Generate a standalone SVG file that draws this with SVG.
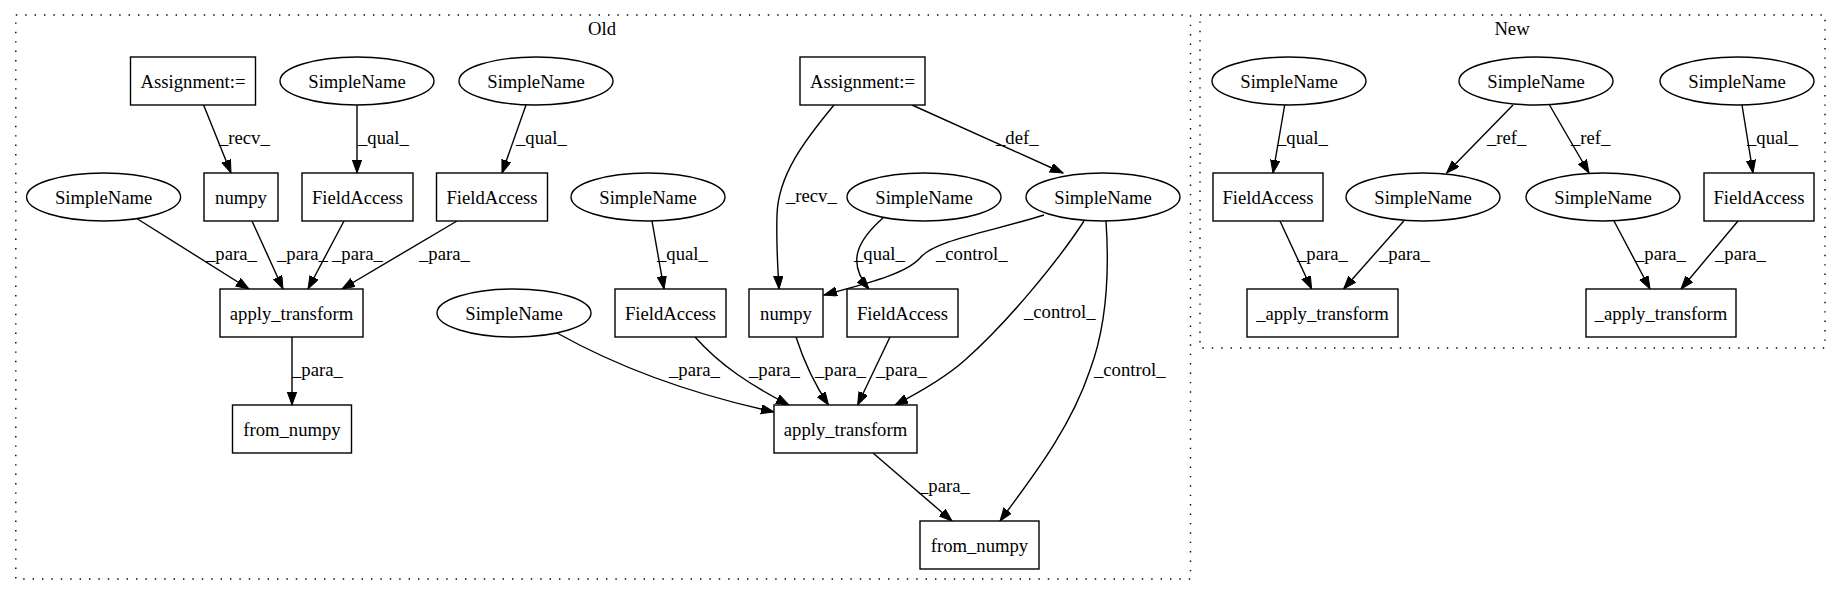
<svg xmlns="http://www.w3.org/2000/svg" width="1841" height="596" viewBox="0 0 1841 596">
<style>
.n rect,.n ellipse{fill:#fff;stroke:#000;stroke-width:1.4}
.n text{text-anchor:middle;dominant-baseline:central}
.e path{fill:none;stroke:#000;stroke-width:1.4;marker-end:url(#ah)}
.e text{text-anchor:start}
.cl{fill:none;stroke:#000;stroke-width:1.4;stroke-dasharray:1.4,8}
</style>
<defs>
<marker id="ah" markerUnits="userSpaceOnUse" markerWidth="14" markerHeight="10" refX="13" refY="4.67" orient="auto">
<path d="M0,0 L13,4.67 L0,9.33 Z" fill="#000" stroke="#000" stroke-width="1"/>
</marker>
</defs>
<rect width="1841" height="596" fill="#fff"/>
<g id="cluster_old"><rect class="cl" x="15.8" y="15" width="1174.7" height="564"/><text font-family="Liberation Serif" font-size="18.67" x="602" y="35" text-anchor="middle">Old</text></g>
<g id="cluster_new"><rect class="cl" x="1200" y="15" width="625" height="333"/><text font-family="Liberation Serif" font-size="18.67" x="1512" y="35" text-anchor="middle">New</text></g>

<g id="connectors" class="e">
<path d="M203.6,105 L231,173"/><text font-family="Liberation Serif" font-size="18.67" x="219" y="144">_recv_</text>
<path d="M357,105 L357,173"/><text font-family="Liberation Serif" font-size="18.67" x="358" y="144">_qual_</text>
<path d="M526,105 L502,173"/><text font-family="Liberation Serif" font-size="18.67" x="516" y="144">_qual_</text>
<path d="M136,218 L249,289"/><text font-family="Liberation Serif" font-size="18.67" x="206" y="260">_para_</text>
<path d="M252,221 L283,289"/><text font-family="Liberation Serif" font-size="18.67" x="277" y="260">_para_</text>
<path d="M344,221 L308,289"/><text font-family="Liberation Serif" font-size="18.67" x="332" y="260">_para_</text>
<path d="M457,221 L342,289"/><text font-family="Liberation Serif" font-size="18.67" x="419" y="260">_para_</text>
<path d="M292,337 L292,405"/><text font-family="Liberation Serif" font-size="18.67" x="292" y="376">_para_</text>
<path d="M834,105 C805,140 778,175 777,215 C776,245 778,270 779,289"/><text font-family="Liberation Serif" font-size="18.67" x="786" y="202">_recv_</text>
<path d="M912,105 L1063,173"/><text font-family="Liberation Serif" font-size="18.67" x="996" y="144">_def_</text>
<path d="M652,221 L664,289"/><text font-family="Liberation Serif" font-size="18.67" x="657" y="260">_qual_</text>
<path d="M883,218 C858,240 846,262 869,289"/><text font-family="Liberation Serif" font-size="18.67" x="854" y="260">_qual_</text>
<path d="M1044,215 C990,232 935,240 920,258 C905,275 860,285 824,295"/><text font-family="Liberation Serif" font-size="18.67" x="936" y="260">_control_</text>
<path d="M1084,221 C1060,258 1010,320 965,360 C945,378 920,392 895,405"/><text font-family="Liberation Serif" font-size="18.67" x="1024" y="318">_control_</text>
<path d="M1106,221 C1110,280 1105,330 1090,370 C1070,430 1030,480 1000,521"/><text font-family="Liberation Serif" font-size="18.67" x="1094" y="376">_control_</text>
<path d="M557,333 Q650,385 774,412"/><text font-family="Liberation Serif" font-size="18.67" x="669" y="376">_para_</text>
<path d="M695,337 C720,365 750,385 789,405"/><text font-family="Liberation Serif" font-size="18.67" x="749" y="376">_para_</text>
<path d="M796,337 C805,365 815,385 828.5,405"/><text font-family="Liberation Serif" font-size="18.67" x="815" y="376">_para_</text>
<path d="M890,337 L857.6,405"/><text font-family="Liberation Serif" font-size="18.67" x="876" y="376">_para_</text>
<path d="M873,453 L952,521"/><text font-family="Liberation Serif" font-size="18.67" x="919" y="492">_para_</text>
<path d="M1284.7,105 L1273,173"/><text font-family="Liberation Serif" font-size="18.67" x="1277" y="144">_qual_</text>
<path d="M1513,105 L1446.6,173"/><text font-family="Liberation Serif" font-size="18.67" x="1487" y="144">_ref_</text>
<path d="M1549.5,105 L1589,173"/><text font-family="Liberation Serif" font-size="18.67" x="1571" y="144">_ref_</text>
<path d="M1742,105 L1753,173"/><text font-family="Liberation Serif" font-size="18.67" x="1747" y="144">_qual_</text>
<path d="M1280,221 L1311.6,289"/><text font-family="Liberation Serif" font-size="18.67" x="1297" y="260">_para_</text>
<path d="M1403.8,221 L1343.6,289"/><text font-family="Liberation Serif" font-size="18.67" x="1379" y="260">_para_</text>
<path d="M1614,221 L1650,289"/><text font-family="Liberation Serif" font-size="18.67" x="1635" y="260">_para_</text>
<path d="M1738,221 L1681,289"/><text font-family="Liberation Serif" font-size="18.67" x="1715" y="260">_para_</text>
</g>

<g id="old_assign1" class="n"><rect x="130.5" y="57" width="125" height="48"/><text font-family="Liberation Serif" font-size="18.67" x="193" y="81">Assignment:=</text></g>
<g id="old_sn_a" class="n"><ellipse cx="357" cy="81" rx="77" ry="24"/><text font-family="Liberation Serif" font-size="18.67" x="357" y="81">SimpleName</text></g>
<g id="old_sn_b" class="n"><ellipse cx="536" cy="81" rx="77" ry="24"/><text font-family="Liberation Serif" font-size="18.67" x="536" y="81">SimpleName</text></g>
<g id="old_assign2" class="n"><rect x="800" y="57" width="125" height="48"/><text font-family="Liberation Serif" font-size="18.67" x="862.5" y="81">Assignment:=</text></g>
<g id="old_sn_c" class="n"><ellipse cx="103.6" cy="197" rx="77" ry="24"/><text font-family="Liberation Serif" font-size="18.67" x="103.6" y="197">SimpleName</text></g>
<g id="old_numpy1" class="n"><rect x="204" y="173" width="74" height="48"/><text font-family="Liberation Serif" font-size="18.67" x="241" y="197">numpy</text></g>
<g id="old_fa1" class="n"><rect x="302" y="173" width="111" height="48"/><text font-family="Liberation Serif" font-size="18.67" x="357.5" y="197">FieldAccess</text></g>
<g id="old_fa2" class="n"><rect x="436.5" y="173" width="111" height="48"/><text font-family="Liberation Serif" font-size="18.67" x="492" y="197">FieldAccess</text></g>
<g id="old_sn_d" class="n"><ellipse cx="648" cy="197" rx="77" ry="24"/><text font-family="Liberation Serif" font-size="18.67" x="648" y="197">SimpleName</text></g>
<g id="old_sn_f" class="n"><ellipse cx="924" cy="197" rx="77" ry="24"/><text font-family="Liberation Serif" font-size="18.67" x="924" y="197">SimpleName</text></g>
<g id="old_sn_g" class="n"><ellipse cx="1103" cy="197" rx="77" ry="24"/><text font-family="Liberation Serif" font-size="18.67" x="1103" y="197">SimpleName</text></g>
<g id="old_apply1" class="n"><rect x="220" y="289" width="143" height="48"/><text font-family="Liberation Serif" font-size="18.67" x="291.5" y="313">apply_transform</text></g>
<g id="old_sn_e" class="n"><ellipse cx="514" cy="313" rx="77" ry="24"/><text font-family="Liberation Serif" font-size="18.67" x="514" y="313">SimpleName</text></g>
<g id="old_fa3" class="n"><rect x="615" y="289" width="111" height="48"/><text font-family="Liberation Serif" font-size="18.67" x="670.5" y="313">FieldAccess</text></g>
<g id="old_numpy2" class="n"><rect x="749" y="289" width="74" height="48"/><text font-family="Liberation Serif" font-size="18.67" x="786" y="313">numpy</text></g>
<g id="old_fa4" class="n"><rect x="847" y="289" width="111" height="48"/><text font-family="Liberation Serif" font-size="18.67" x="902.5" y="313">FieldAccess</text></g>
<g id="old_from_numpy1" class="n"><rect x="232.5" y="405" width="119" height="48"/><text font-family="Liberation Serif" font-size="18.67" x="292" y="429">from_numpy</text></g>
<g id="old_apply2" class="n"><rect x="774" y="405" width="143" height="48"/><text font-family="Liberation Serif" font-size="18.67" x="845.5" y="429">apply_transform</text></g>
<g id="old_from_numpy2" class="n"><rect x="920" y="521" width="119" height="48"/><text font-family="Liberation Serif" font-size="18.67" x="979.5" y="545">from_numpy</text></g>

<g id="new_sn_h" class="n"><ellipse cx="1289" cy="81" rx="77" ry="24"/><text font-family="Liberation Serif" font-size="18.67" x="1289" y="81">SimpleName</text></g>
<g id="new_sn_i" class="n"><ellipse cx="1536" cy="81" rx="77" ry="24"/><text font-family="Liberation Serif" font-size="18.67" x="1536" y="81">SimpleName</text></g>
<g id="new_sn_j" class="n"><ellipse cx="1737" cy="81" rx="77" ry="24"/><text font-family="Liberation Serif" font-size="18.67" x="1737" y="81">SimpleName</text></g>
<g id="new_fa5" class="n"><rect x="1213" y="173" width="110" height="48"/><text font-family="Liberation Serif" font-size="18.67" x="1268" y="197">FieldAccess</text></g>
<g id="new_sn_k" class="n"><ellipse cx="1423" cy="197" rx="77" ry="24"/><text font-family="Liberation Serif" font-size="18.67" x="1423" y="197">SimpleName</text></g>
<g id="new_sn_l" class="n"><ellipse cx="1603" cy="197" rx="77" ry="24"/><text font-family="Liberation Serif" font-size="18.67" x="1603" y="197">SimpleName</text></g>
<g id="new_fa6" class="n"><rect x="1704" y="173" width="110" height="48"/><text font-family="Liberation Serif" font-size="18.67" x="1759" y="197">FieldAccess</text></g>
<g id="new_apply1" class="n"><rect x="1247" y="289" width="151" height="48"/><text font-family="Liberation Serif" font-size="18.67" x="1322.5" y="313">_apply_transform</text></g>
<g id="new_apply2" class="n"><rect x="1586" y="289" width="150" height="48"/><text font-family="Liberation Serif" font-size="18.67" x="1661" y="313">_apply_transform</text></g>
</svg>
